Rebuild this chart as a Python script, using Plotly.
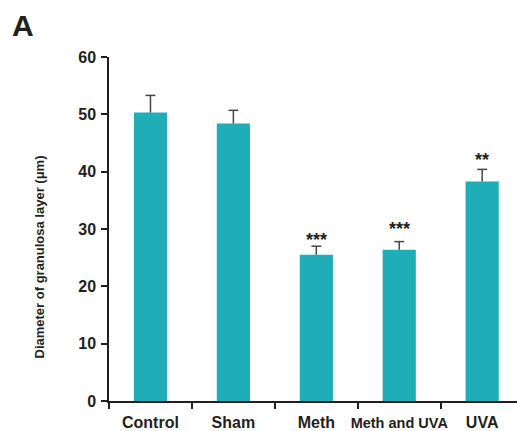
import plotly.graph_objects as go

# Granulosa layer diameter per group (mean, upper SEM)
groups = ["Control", "Sham", "Meth", "Meth and UVA", "UVA"]
means = [50.3, 48.4, 25.5, 26.4, 38.3]
errors = [3.0, 2.3, 1.5, 1.4, 2.1]
significance = ["", "", "***", "***", "**"]

tick_values = [0, 10, 20, 30, 40, 50, 60]

# label text for the x axis; the long label is set a little smaller
tick_text = [
    g if len(g) < 10 else "<span style='font-size:14.5px'>" + g + "</span>"
    for g in groups
]

BAR = "#1fadb7"
INK = "#231f20"
ERR = "#444444"
FONT = "Liberation Sans, Arial, sans-serif"

W, H = 517, 431
L, R, T, B = 109, 0, 57, 30
PW, PH = W - L - R, H - T - B


def px_to_paper(x, y):
    """Convert figure pixel coordinates into paper coordinates."""
    return (x - L) / PW, (H - B - y) / PH


fig = go.Figure()
fig.add_trace(
    go.Bar(
        x=groups,
        y=means,
        width=0.4,
        marker=dict(color=BAR, line=dict(width=0)),
        showlegend=False,
        hoverinfo="skip",
    )
)

# one-sided (upper) error bars: a stem from the bar top plus a cap
stem_x, stem_y = [], []
for g, m, e in zip(groups, means, errors):
    stem_x += [g, g, None]
    stem_y += [m, m + e, None]
fig.add_trace(
    go.Scatter(
        x=stem_x, y=stem_y, mode="lines",
        line=dict(color=ERR, width=1.5),
        showlegend=False, hoverinfo="skip",
    )
)
fig.add_trace(
    go.Scatter(
        x=groups, y=[m + e for m, e in zip(means, errors)], mode="markers",
        marker=dict(symbol="line-ew", size=7, line=dict(color=ERR, width=1.5)),
        showlegend=False, hoverinfo="skip",
    )
)

# significance stars above the error bars
star_shift = [0, 0, 0, 7, 3]
for g, m, e, s, sh in zip(groups, means, errors, significance, star_shift):
    if s:
        fig.add_annotation(
            x=g,
            y=m + e,
            text=s,
            showarrow=False,
            yanchor="bottom",
            yshift=sh - 6,
            font=dict(family=FONT, size=18, color=INK, weight="bold"),
        )

# panel letter
ax, ay = px_to_paper(10, 7)
fig.add_annotation(
    x=ax, y=ay, xref="paper", yref="paper", xanchor="left", yanchor="top",
    text="A", showarrow=False,
    font=dict(family=FONT, size=30, color=INK, weight="bold"),
)

# y-axis title
tx, ty = px_to_paper(29, 257)
fig.add_annotation(
    x=tx, y=ty, xref="paper", yref="paper",
    text="Diameter of granulosa layer (μm)",
    textangle=-90, showarrow=False,
    font=dict(family=FONT, size=13, color=INK, weight="bold"),
)

fig.update_layout(
    width=W,
    height=H,
    margin=dict(l=L, r=R, t=T, b=B),
    paper_bgcolor="white",
    plot_bgcolor="white",
    font=dict(family=FONT, color=INK),
)

fig.update_xaxes(
    type="category",
    categoryorder="array",
    categoryarray=groups,
    tickvals=groups,
    ticktext=tick_text,
    range=[-0.5, 4.42],
    tickson="boundaries",
    ticks="outside",
    ticklen=6,
    tickwidth=1.5,
    tickcolor=INK,
    tickangle=0,
    showline=True,
    linewidth=2,
    linecolor=INK,
    showgrid=False,
    automargin=False,
    ticklabelstandoff=6,
    tickfont=dict(family=FONT, size=16, color=INK, weight="bold"),
)

fig.update_yaxes(
    range=[0, 60],
    tickvals=tick_values,
    ticks="outside",
    ticklen=6,
    tickwidth=1.5,
    tickcolor=INK,
    showline=True,
    linewidth=1.5,
    linecolor=INK,
    showgrid=False,
    zeroline=False,
    automargin=False,
    ticklabelstandoff=2,
    tickfont=dict(family=FONT, size=16, color=INK, weight="bold"),
)

fig.write_html("out.html")
